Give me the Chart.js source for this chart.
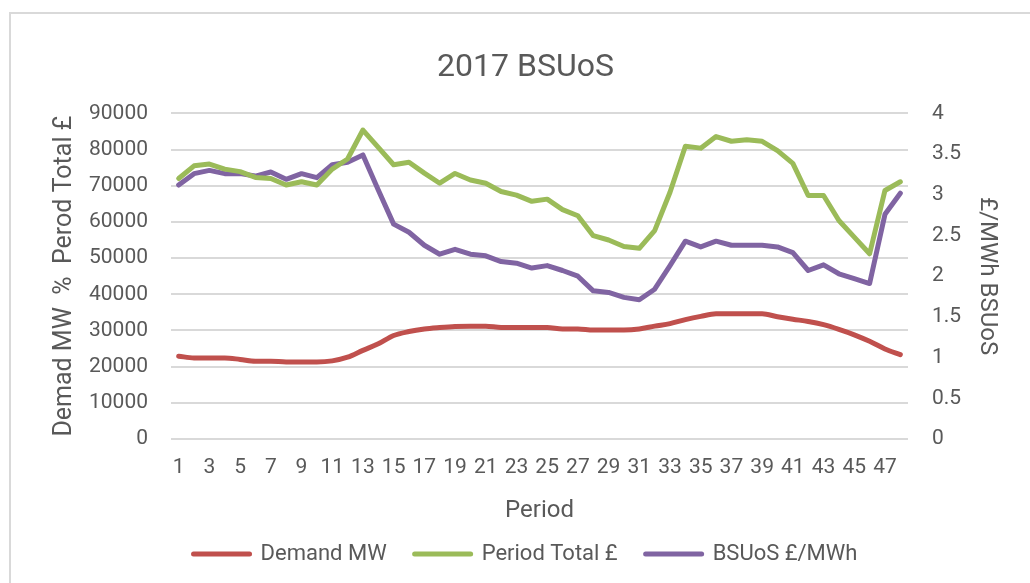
<!DOCTYPE html>
<html>
<head>
<meta charset="utf-8">
<script src="https://cdn.jsdelivr.net/npm/chart.js@4.4.0/dist/chart.umd.min.js"></script>
<style>
  html, body { margin: 0; padding: 0; background: #fff; }
  #wrap { position: relative; width: 1030px; height: 583px; overflow: hidden; }
  #frame { position: absolute; left: 9px; top: 12px; width: 1040px; height: 600px;
           border: 2px solid #d9d9d9; box-sizing: border-box; }
  #chart { position: absolute; left: 0; top: 0; }
</style>
</head>
<body>
<div id="wrap">
  <div id="frame"></div>
  <canvas id="chart" width="1030" height="583"></canvas>
</div>
<script>
const periods = [];
for (let i = 1; i <= 48; i++) periods.push(String(i));

const demandMW = [
  22900, 22400, 22400, 22400, 22000, 21500, 21500, 21300, 21300, 21300,
  21600, 22600, 24500, 26300, 28600, 29700, 30400, 30800, 31100, 31200,
  31200, 30800, 30800, 30800, 30800, 30400, 30400, 30100, 30100, 30100,
  30400, 31200, 31900, 33000, 33900, 34600, 34600, 34600, 34600, 33800,
  33100, 32500, 31600, 30300, 28800, 27000, 24900, 23300
];

const periodTotal = [
  72000, 75500, 76000, 74600, 73900, 72300, 72000, 70200, 71100, 70200,
  74600, 77400, 85400, 80600, 75800, 76500, 73500, 70700, 73400, 71600,
  70700, 68400, 67400, 65700, 66300, 63400, 61700, 56200, 55000, 53200,
  52700, 57600, 68200, 80900, 80400, 83600, 82300, 82700, 82300, 79700,
  76200, 67300, 67300, 60400, 55800, 51200, 68700, 71100
];

const bsuosRate = [
  3.12, 3.26, 3.30, 3.26, 3.26, 3.23, 3.28, 3.19, 3.26, 3.21,
  3.37, 3.40, 3.49, 3.06, 2.64, 2.54, 2.38, 2.27, 2.33, 2.27,
  2.25, 2.18, 2.16, 2.10, 2.13, 2.07, 2.00, 1.82, 1.80, 1.74,
  1.71, 1.84, 2.13, 2.43, 2.36, 2.43, 2.38, 2.38, 2.38, 2.36,
  2.29, 2.07, 2.14, 2.03, 1.97, 1.91, 2.76, 3.02
];

const leftTicks = [0, 10000, 20000, 30000, 40000, 50000, 60000, 70000, 80000, 90000];
const rightTicks = [0, 0.5, 1, 1.5, 2, 2.5, 3, 3.5, 4];

const textColor = "#595959";
const gridColor = "#d9d9d9";
const fontFamily = "Roboto, 'Open Sans', sans-serif";

function lineSeries(label, data, color, axis, smooth) {
  return {
    label,
    data,
    borderColor: color,
    backgroundColor: color,
    borderWidth: 5,
    borderCapStyle: "round",
    borderJoinStyle: "round",
    pointRadius: 0,
    tension: 0,
    cubicInterpolationMode: smooth ? "monotone" : "default",
    yAxisID: axis,
  };
}

const ctx = document.getElementById("chart").getContext("2d");
new Chart(ctx, {
  type: "line",
  data: {
    labels: periods,
    datasets: [
      lineSeries("Demand MW", demandMW, "#c0504d", "y", true),
      lineSeries("Period Total £", periodTotal, "#9bbb59", "y", false),
      lineSeries("BSUoS £/MWh", bsuosRate, "#8064a2", "y1", false),
    ],
  },
  options: {
    responsive: false,
    animation: false,
    layout: { padding: { left: 46, right: 25, top: 49, bottom: 8 } },
    plugins: {
      title: {
        display: true,
        text: "2017 BSUoS",
        color: textColor,
        font: { family: fontFamily, size: 32, weight: "normal" },
        padding: { top: 0, bottom: 26 },
      },
      legend: {
        position: "bottom",
        labels: {
          color: textColor,
          font: { family: fontFamily, size: 22 },
          usePointStyle: true,
          pointStyleWidth: 56,
          boxHeight: 22,
          padding: 28,
          generateLabels: (chart) =>
            chart.data.datasets.map((ds, i) => ({
              text: ds.label,
              fillStyle: ds.borderColor,
              strokeStyle: ds.borderColor,
              lineWidth: 5,
              lineCap: "round",
              pointStyle: "line",
              fontColor: textColor,
              datasetIndex: i,
            })),
        },
      },
      tooltip: { enabled: false },
    },
    scales: {
      x: {
        offset: true,
        grid: { display: false },
        border: { display: false },
        ticks: {
          color: textColor,
          font: { family: fontFamily, size: 21 },
          autoSkip: false,
          maxRotation: 0,
          padding: 8,
          callback: (val, idx) => (idx % 2 === 0 ? periods[idx] : ""),
        },
        title: {
          display: true,
          text: "Period",
          color: textColor,
          font: { family: fontFamily, size: 24 },
          padding: { top: 4, bottom: -10 },
        },
        afterFit: (scale) => { scale.height = 76; },
      },
      y: {
        position: "left",
        min: 0,
        max: 90000,
        afterBuildTicks: (scale) => { scale.ticks = leftTicks.map((v) => ({ value: v })); },
        grid: { color: gridColor, lineWidth: 2, drawTicks: false },
        border: { display: false },
        ticks: {
          color: textColor,
          font: { family: fontFamily, size: 21 },
          padding: 23,
          callback: (v) => String(v),
        },
        title: {
          display: true,
          text: "Demad MW  %  Perod Total £",
          color: textColor,
          font: { family: fontFamily, size: 25 },
        },
        afterFit: (scale) => { scale.width = 125; },
      },
      y1: {
        position: "right",
        min: 0,
        max: 4,
        afterBuildTicks: (scale) => { scale.ticks = rightTicks.map((v) => ({ value: v })); },
        grid: { display: false, drawTicks: false },
        border: { display: false },
        ticks: {
          color: textColor,
          font: { family: fontFamily, size: 21 },
          padding: 24,
          callback: (v) => String(v),
        },
        title: {
          display: true,
          text: "£/MWh BSUoS",
          color: textColor,
          font: { family: fontFamily, size: 24 },
        },
        afterFit: (scale) => { scale.width = 97; },
      },
    },
  },
});
</script>
</body>
</html>
